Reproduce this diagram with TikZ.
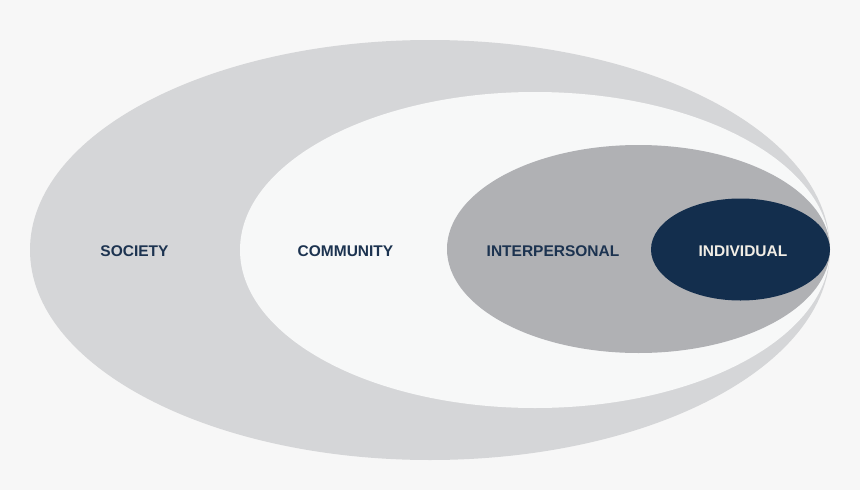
\documentclass[tikz,border=0pt]{standalone}
\usepackage{fontspec}
\setmainfont{Liberation Sans}
\usepackage{tikz}
\usetikzlibrary{shapes.geometric}
\definecolor{pagebg}{HTML}{F7F7F7}
\definecolor{societygray}{HTML}{D5D6D8}
\definecolor{communitywhite}{HTML}{F7F8F8}
\definecolor{interpgray}{HTML}{B0B1B4}
\definecolor{indivnavy}{HTML}{132E4D}
\definecolor{labelnavy}{HTML}{1C3350}
\definecolor{labelcream}{HTML}{F2EEE6}

\begin{document}
\begin{tikzpicture}[x=1pt,y=-1pt,
   ring/.style={ellipse,draw=none,inner sep=0pt},
   lbl/.style={font=\fontsize{15.5}{18}\selectfont\bfseries,text=labelnavy,inner sep=0pt}]
  \fill[pagebg] (0,0) rectangle (860,490);
  \useasboundingbox (0,0) rectangle (860,490);
  % nested rings, all touching at the right
  \node[ring,fill=societygray,minimum width=800pt,minimum height=420pt] (society) at (430,250) {};
  \node[ring,fill=communitywhite,minimum width=590pt,minimum height=316pt] (community) at (535,250) {};
  \node[ring,fill=interpgray,minimum width=383pt,minimum height=208pt] (interp) at (638.5,249) {};
  \node[ring,fill=indivnavy,minimum width=179pt,minimum height=102pt] (indiv) at (740.5,249.5) {};
  % labels
  \node[lbl] (tsociety) at (134.5,251) {SOCIETY};
  \node[lbl] (tcommunity) at (345.5,251) {COMMUNITY};
  \node[lbl] (tinterp) at (553,251) {INTERPERSONAL};
  \node[lbl,text=labelcream] (tindiv) at (743,251) {INDIVIDUAL};
\end{tikzpicture}
\end{document}
